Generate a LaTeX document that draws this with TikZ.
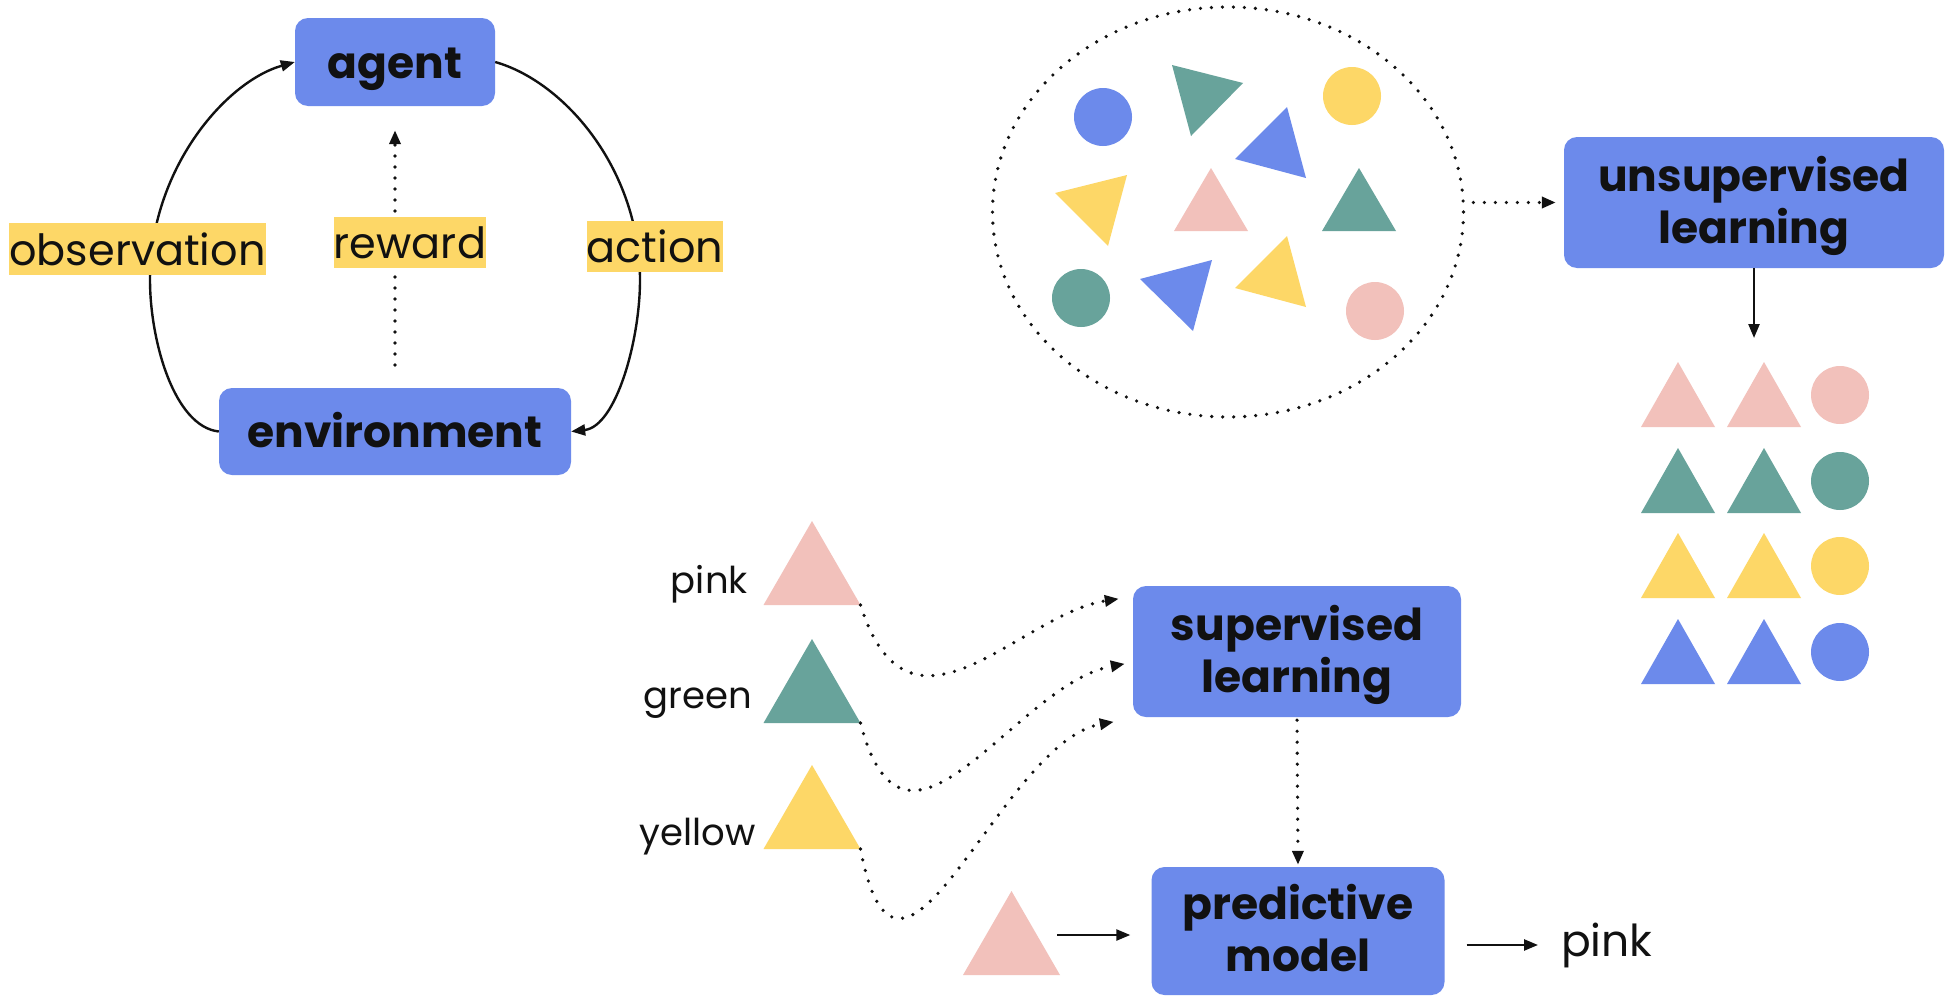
\documentclass[tikz,border=0pt]{standalone}
\usepackage{fontspec}
\setmainfont{Poppins}
\usetikzlibrary{arrows.meta,shapes.geometric,calc}

\definecolor{cblue}{HTML}{6C8AEB}
\definecolor{cgreen}{HTML}{68A39B}
\definecolor{cyellow}{HTML}{FDD767}
\definecolor{cpink}{HTML}{F2C1BB}
\definecolor{ink}{HTML}{111111}

\begin{document}
\begin{tikzpicture}[x=1pt, y=-1pt,
  box/.style={fill=cblue, rounded corners=13pt, inner sep=0pt, align=center,
    text=ink, font=\bfseries\fontsize{44}{52}\selectfont, text height=33pt, text depth=1pt},
  twoline/.style={text height=82pt, text depth=1pt},
  tag/.style={fill=cyellow, inner sep=0pt, text=ink, font=\fontsize{43}{48}\selectfont},
  lbl/.style={inner sep=0pt, text=ink, font=\fontsize{37}{42}\selectfont},
  tri/.style={regular polygon, regular polygon sides=3, inner sep=0pt, outer sep=0pt},
  solidarrow/.style={-{Triangle[length=14pt,width=11pt]}, line width=2.4pt, draw=ink},
  dotline/.style={line width=3.6pt, dash pattern=on 0pt off 11pt, line cap=round, draw=ink},
  dotarrow/.style={dotline, -{Triangle[length=14pt,width=11pt]}}]

\useasboundingbox (0,0) rectangle (1946,996);
\fill[white] (0,0) rectangle (1946,996);

% ---------------- reinforcement loop ----------------
\node[box, minimum width=200pt, minimum height=88pt] (agent) at (395,62) {agent};
\node[box, minimum width=352pt, minimum height=87pt] (env) at (395,431.5) {environment};

\coordinate (obsmid) at (150,280);
\coordinate (actmid) at (640,280);
\draw[solidarrow] (env.west) .. controls +(-45,-5) and +(0,60) .. (obsmid)
                  .. controls +(0,-110) and +(-70,20) .. (agent.west);
\draw[solidarrow] (agent.east) .. controls +(70,20) and +(0,-110) .. (actmid)
                  .. controls +(0,60) and +(45,-5) .. (env.east);

\coordinate (rw0) at (395,365);
\draw[dotarrow, shorten >=24pt] (rw0) -- (rw0 |- agent.south);

\node[tag, minimum width=253pt, minimum height=52pt] (obs) at (137.5,249) {observation};
\node[tag, minimum width=150pt, minimum height=51pt] (rew) at (410,242.5) {reward};
\node[tag, minimum width=134pt, minimum height=51pt] (act) at (655,246.5) {action};

% ---------------- unsupervised learning ----------------
\node[draw, ellipse, dotline, inner sep=0pt, minimum width=471pt, minimum height=410pt] (pool) at (1228,212) {};

\fill[cblue] (1103,117) circle[radius=29pt];
\fill[cgreen] (1172,65) -- (1243,83) -- (1191,136) -- cycle;
\fill[cyellow] (1352,96) circle[radius=29pt];
\fill[cblue] (1287,107) -- (1235,159) -- (1306,178) -- cycle;
\fill[cyellow] (1055,193) -- (1127,175) -- (1108,246) -- cycle;
\fill[cpink] (1211,168) -- (1248,231) -- (1174,231) -- cycle;
\fill[cgreen] (1359,168) -- (1396,231) -- (1322,231) -- cycle;
\fill[cgreen] (1081,298) circle[radius=29pt];
\fill[cblue] (1140,279) -- (1212,260) -- (1193,331) -- cycle;
\fill[cyellow] (1287,236) -- (1235,288) -- (1306,307) -- cycle;
\fill[cpink] (1375,311) circle[radius=29pt];

\node[box, twoline, minimum width=380pt, minimum height=131pt] (unsup) at (1754,202.5) {unsupervised\\learning};
\draw[dotarrow, shorten <=8pt, shorten >=8pt] (pool.east |- unsup.west) -- (unsup.west);

\coordinate (gridtop) at (1754,338);
\draw[solidarrow] (unsup.south) -- (gridtop);

\foreach \c/\ya in {cpink/362, cgreen/448, cyellow/533, cblue/619} {
  \fill[\c] (1678,\ya) -- ++(37,65) -- ++(-74,0) -- cycle;
  \fill[\c] (1764,\ya) -- ++(37,65) -- ++(-74,0) -- cycle;
  \fill[\c] (1840,\ya+33) circle[radius=29pt];
}

% ---------------- supervised learning ----------------
\node[tri, fill=cpink, minimum size=112pt] (tp) at (812,577) {};
\node[tri, fill=cgreen, minimum size=112pt] (tg) at (812,695) {};
\node[tri, fill=cyellow, minimum size=112pt] (ty) at (812,821) {};
\node[lbl, anchor=base east] (lp) at (748,593) {pink};
\node[lbl, anchor=base east] (lg) at (752,708) {green};
\node[lbl, anchor=base east] (ly) at (756,845) {yellow};

\node[box, twoline, minimum width=328pt, minimum height=131pt] (sup) at (1297,651.5) {supervised\\learning};
\coordinate (s1) at ($(sup.north west)+(-14,13)$);
\coordinate (s2) at ($(sup.north west)+(-8,78)$);
\coordinate (s3) at ($(sup.north west)+(-19,136)$);
\draw[dotarrow] (tp.corner 3) .. controls +(49,155) and +(-99,15) .. (s1);
\draw[dotarrow] (tg.corner 3) .. controls +(45,173) and +(-110,20) .. (s2);
\draw[dotarrow] (ty.corner 3) .. controls +(39,205) and +(-114,20) .. (s3);

\node[box, twoline, minimum width=293pt, minimum height=128pt] (pred) at (1298,931) {predictive\\model};
\draw[dotarrow, shorten <=3pt, shorten >=2pt] (sup.south) -- (pred.north);

\node[tri, fill=cpink, minimum size=112pt] (tq) at (1011.5,947) {};
\coordinate (q0) at (1057,935);
\draw[solidarrow, shorten >=21pt] (q0) -- (q0 -| pred.west);

\node[lbl, anchor=base west, font=\fontsize{44}{50}\selectfont] (outp) at (1561,956) {pink};
\draw[solidarrow, shorten <=22pt, shorten >=23pt] (pred.east |- outp.west) -- (outp.west);

\end{tikzpicture}
\end{document}
